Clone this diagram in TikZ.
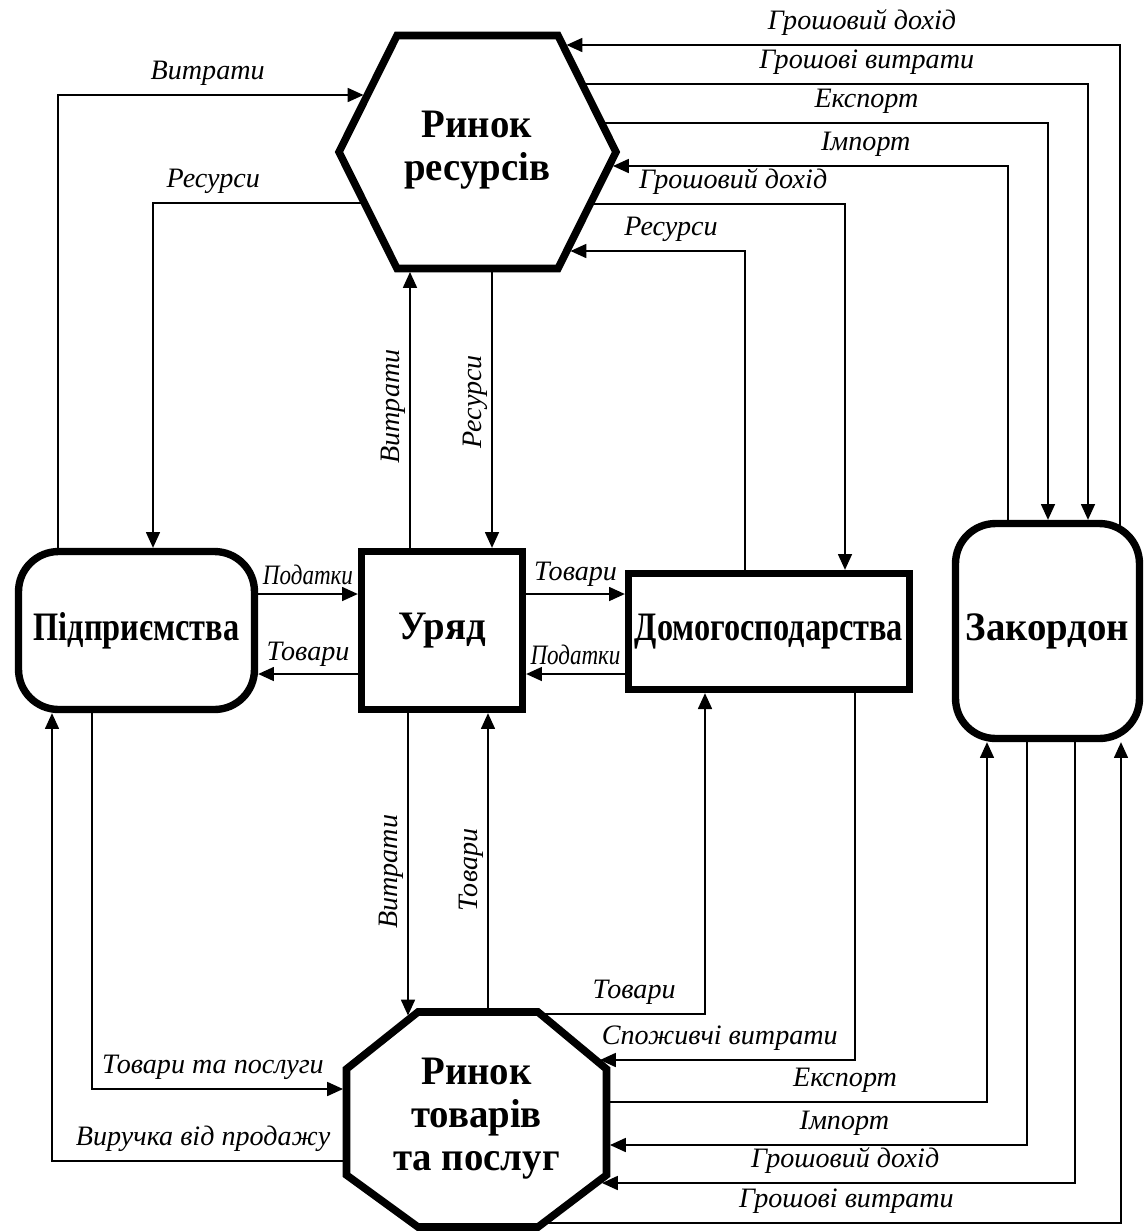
\documentclass[tikz,border=0pt]{standalone}
\usepackage{fontspec}
\setmainfont{Liberation Serif}
\newfontfamily\boxfont[FakeStretch=0.96]{Liberation Serif}
\newfontfamily\narrowboxfont[FakeStretch=0.8]{Liberation Serif}
\newfontfamily\narrowlblfont[FakeStretch=0.82]{Liberation Serif}
\usetikzlibrary{positioning,arrows.meta,backgrounds,calc}

\tikzset{
  box/.style={draw, line width=4.2pt, fill=white, inner sep=0pt, align=center,
    font=\boxfont\bfseries\fontsize{23}{24.5}\selectfont},
  narrowbox/.style={font=\narrowboxfont\bfseries\fontsize{23}{24.5}\selectfont},
  roundbox/.style={box, rounded corners=0.8cm},
  market/.style={draw, line width=4.3pt, fill=white},
  markettext/.style={align=center, inner sep=0pt, font=\boxfont\bfseries\fontsize{23}{24.5}\selectfont},
  flow/.style={line width=0.8pt, -{Triangle[length=9pt,width=8pt]}},
  lbl/.style={inner sep=2pt, font=\itshape\fontsize{16}{18}\selectfont},
  narrowlbl/.style={inner sep=2pt, font=\narrowlblfont\itshape\fontsize{16}{18}\selectfont},
}

\begin{document}
\begin{tikzpicture}[x=0.02cm, y=-0.02cm]
\useasboundingbox (0,0) rectangle (1145,1232);

% middle row
\node[roundbox, narrowbox, minimum width=4.72cm, minimum height=3.16cm] (firms) at (136.5,630.5) {Підприємства};
\node[box, minimum width=3.22cm, minimum height=3.16cm] (gov) at (442,630.5) {Уряд};
\node[box, narrowbox, minimum width=5.62cm, minimum height=2.32cm] (house) at (769,631.5) {Домогосподарства};
\node[roundbox, minimum width=3.68cm, minimum height=4.3cm] (abroad) at (1047.5,631) {Закордон};

% resource market (hexagon)
\draw[market] (339,152) -- (397,35.5) -- (558,35.5) -- (616,152)
  -- (558,268.5) -- (397,268.5) -- cycle;
\node[markettext] (res) at (477,150) {Ринок\\ресурсів};
\coordinate (res-w1) at (363.5,95);
\coordinate (res-e1) at (566.5,45);
\coordinate (res-e2) at (613,166);
\coordinate (res-e3) at (570.5,251);
\coordinate (res-s1) at (410,272);

% goods market (octagon)
\draw[market] (418,1012) -- (538,1012) -- (606.5,1069) -- (606.5,1175)
  -- (538,1227) -- (418,1227) -- (346.5,1175) -- (346.5,1069) -- cycle;
\node[markettext] (goods) at (476.5,1119) {Ринок\\товарів\\та послуг};
\coordinate (goods-n1) at (408,1015.5);
\coordinate (goods-w1) at (343,1089);
\coordinate (goods-e1) at (600,1060);
\coordinate (goods-e2) at (610,1145);
\coordinate (goods-e3) at (602,1183);

\begin{scope}[on background layer]
  % firms <-> resource market
  \draw[flow] (58,0 |- firms.north) |- node[lbl, above=3pt, pos=.745] (l1) {Витрати} (res-w1);
  \draw[flow] (res |- 0,203) -| node[lbl, above=3pt, pos=.407] (l2) {Ресурси} (153,0 |- firms.north);
  % abroad <-> resource market
  \draw[flow] (1120,0 |- abroad.center) |- node[lbl, above=3pt, pos=.733] (l3) {Грошовий дохід} (res-e1);
  \draw[flow] (res |- 0,84) -| node[lbl, above=3pt, pos=.319] (l4) {Грошові витрати} (1088,0 |- abroad.north);
  \draw[flow] (res |- 0,123) -| node[lbl, above=3pt, pos=.341] (l5) {Експорт} (1048,0 |- abroad.north);
  \draw[flow] (1008,0 |- abroad.center) |- node[lbl, above=3pt, pos=.68] (l6) {Імпорт} (res-e2);
  % households <-> resource market
  \draw[flow] (res |- 0,204) -| node[lbl, above=3pt, pos=.348] (l7) {Грошовий дохід} (845,0 |- house.north);
  \draw[flow] (745,0 |- house.center) |- node[lbl, above=3pt, pos=.712] (l8) {Ресурси} (res-e3);
  % government <-> resource market
  \draw[flow] (410,0 |- gov.center) -- node[lbl, rotate=90, above=3pt, pos=.61] (l9) {Витрати} (res-s1);
  \draw[flow] (492,0 |- res) -- node[lbl, rotate=90, above=3pt, pos=.646] (l10) {Ресурси} (492,0 |- gov.north);
  % middle row
  \draw[flow] (firms.east |- 0,594) -- node[narrowlbl, above=3pt] (l11) {Податки} (gov.west |- 0,594);
  \draw[flow] (gov.west |- 0,674) -- node[lbl, above=2pt] (l12) {Товари} (firms.east |- 0,674);
  \draw[flow] (gov.east |- 0,594) -- node[lbl, above=2pt] (l13) {Товари} (house.west |- 0,594);
  \draw[flow] (house.west |- 0,674) -- node[narrowlbl, above=3pt] (l14) {Податки} (gov.east |- 0,674);
  % government <-> goods market
  \draw[flow] (408,0 |- gov.center) -- node[lbl, rotate=90, above=3pt, pos=.64] (l15) {Витрати} (goods-n1);
  \draw[flow] (488,0 |- goods) -- node[lbl, rotate=90, above=3pt, pos=.6] (l16) {Товари} (488,0 |- gov.south);
  % firms <-> goods market
  \draw[flow] (92,0 |- firms.center) |- node[lbl, above=3pt, pos=.741] (l17) {Товари та послуги} (goods-w1);
  \draw[flow] (goods |- 0,1161) -| node[lbl, above=3pt, pos=.322] (l18) {Виручка від продажу} (52,0 |- firms.south);
  % households <-> goods market
  \draw[flow] (goods |- 0,1014) -| node[lbl, above=3pt, pos=.345] (l19) {Товари} (705,0 |- house.south);
  \draw[flow] (855,0 |- house.center) |- node[lbl, above=3pt, pos=.765] (l20) {Споживчі витрати} (goods-e1);
  % abroad <-> goods market
  \draw[flow] (goods |- 0,1102) -| node[lbl, above=3pt, pos=.361] (l21) {Експорт} (987,0 |- abroad.south);
  \draw[flow] (1027,0 |- abroad.center) |- node[lbl, above=3pt, pos=.719] (l22) {Імпорт} (goods-e2);
  \draw[flow] (1075,0 |- abroad.center) |- node[lbl, above=3pt, pos=.743] (l23) {Грошовий дохід} (goods-e3);
  \draw[flow] (goods |- 0,1223) -| node[lbl, above=3pt, pos=.287] (l24) {Грошові витрати} (1121,0 |- abroad.south);
\end{scope}
\end{tikzpicture}
\end{document}
